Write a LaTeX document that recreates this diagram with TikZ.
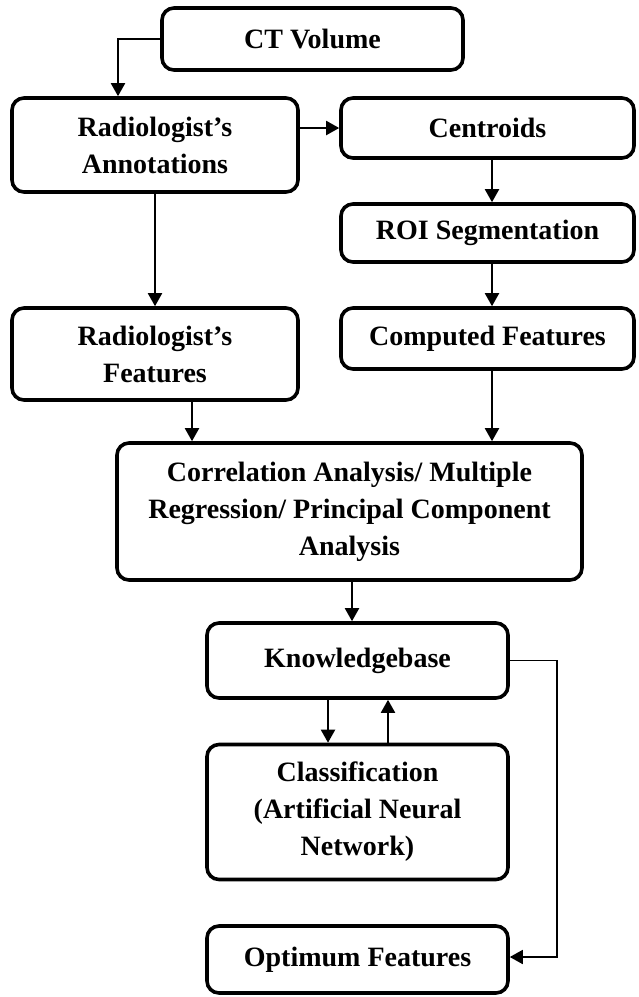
\documentclass[tikz,border=0pt]{standalone}
\usepackage{fontspec}
\setmainfont{Liberation Serif}
\usetikzlibrary{arrows.meta,calc}
\tikzset{
  box/.style={draw=black, line width=3.6pt, rounded corners=12pt, fill=white,
    inner sep=0pt, align=center, font=\bfseries\fontsize{28}{37}\selectfont},
  arr/.style={line width=2pt, -{Triangle[length=13pt,width=14pt]}},
  thinarr/.style={line width=1.7pt, -{Triangle[length=13pt,width=14pt]}},
}
\begin{document}
\begin{tikzpicture}[x=1pt,y=-1pt]
\useasboundingbox (0,0) rectangle (638,997);
\fill[white] (0,0) rectangle (638,997);

\node[box, minimum width=301pt, minimum height=62pt] (ct) at (312.5,39) {CT Volume};
\node[box, minimum width=286pt, minimum height=94pt] (ann) at (155,145) {Radiologist’s\\Annotations};
\node[box, minimum width=293pt, minimum height=60pt] (cen) at (487.5,128) {Centroids};
\node[box, minimum width=293pt, minimum height=58pt] (roi) at (487.5,233) {ROI Segmentation};
\node[box, minimum width=293pt, minimum height=61pt] (comp) at (487.5,338.5) {Computed Features};
\node[box, minimum width=286pt, minimum height=92pt] (rf) at (155,354) {Radiologist’s\\Features};
\node[box, minimum width=465pt, minimum height=137pt] (corr) at (349.5,511.5) {Correlation Analysis/ Multiple\\Regression/ Principal Component\\Analysis};
\node[box, minimum width=301pt, minimum height=75pt] (kb) at (357.5,660.5) {Knowledgebase};
\node[box, minimum width=301pt, minimum height=135pt] (cls) at (357.5,812) {Classification\\(Artificial Neural\\Network)};
\node[box, minimum width=301pt, minimum height=67pt] (opt) at (357.5,959.5) {Optimum Features};

\coordinate (ctx) at (118,0);
\coordinate (xa) at (155,0);
\coordinate (xr) at (192,0);
\coordinate (xc) at (492,0);
\coordinate (xk) at (352,0);
\coordinate (xd) at (328,0);
\coordinate (xu) at (388,0);
\coordinate (xf) at (557,0);
\coordinate (yf) at (0,957);

\draw[arr] (ct.west) -| (ctx |- ann.north);
\draw[arr] (cen.west -| ann.east) -- (cen.west);
\draw[arr] (xc |- cen.south) -- (xc |- roi.north);
\draw[arr] (xc |- roi.south) -- (xc |- comp.north);
\draw[arr] (xa |- ann.south) -- (xa |- rf.north);
\draw[arr] (xr |- rf.south) -- (xr |- corr.north);
\draw[arr] (xc |- comp.south) -- (xc |- corr.north);
\draw[arr] (xk |- corr.south) -- (xk |- kb.north);
\draw[arr] (xd |- kb.south) -- (xd |- cls.north);
\draw[arr] (xu |- cls.north) -- (xu |- kb.south);
\draw[thinarr] (kb.east) -- (kb.east -| xf) -- (xf |- yf) -- (yf -| opt.east);
\end{tikzpicture}
\end{document}
